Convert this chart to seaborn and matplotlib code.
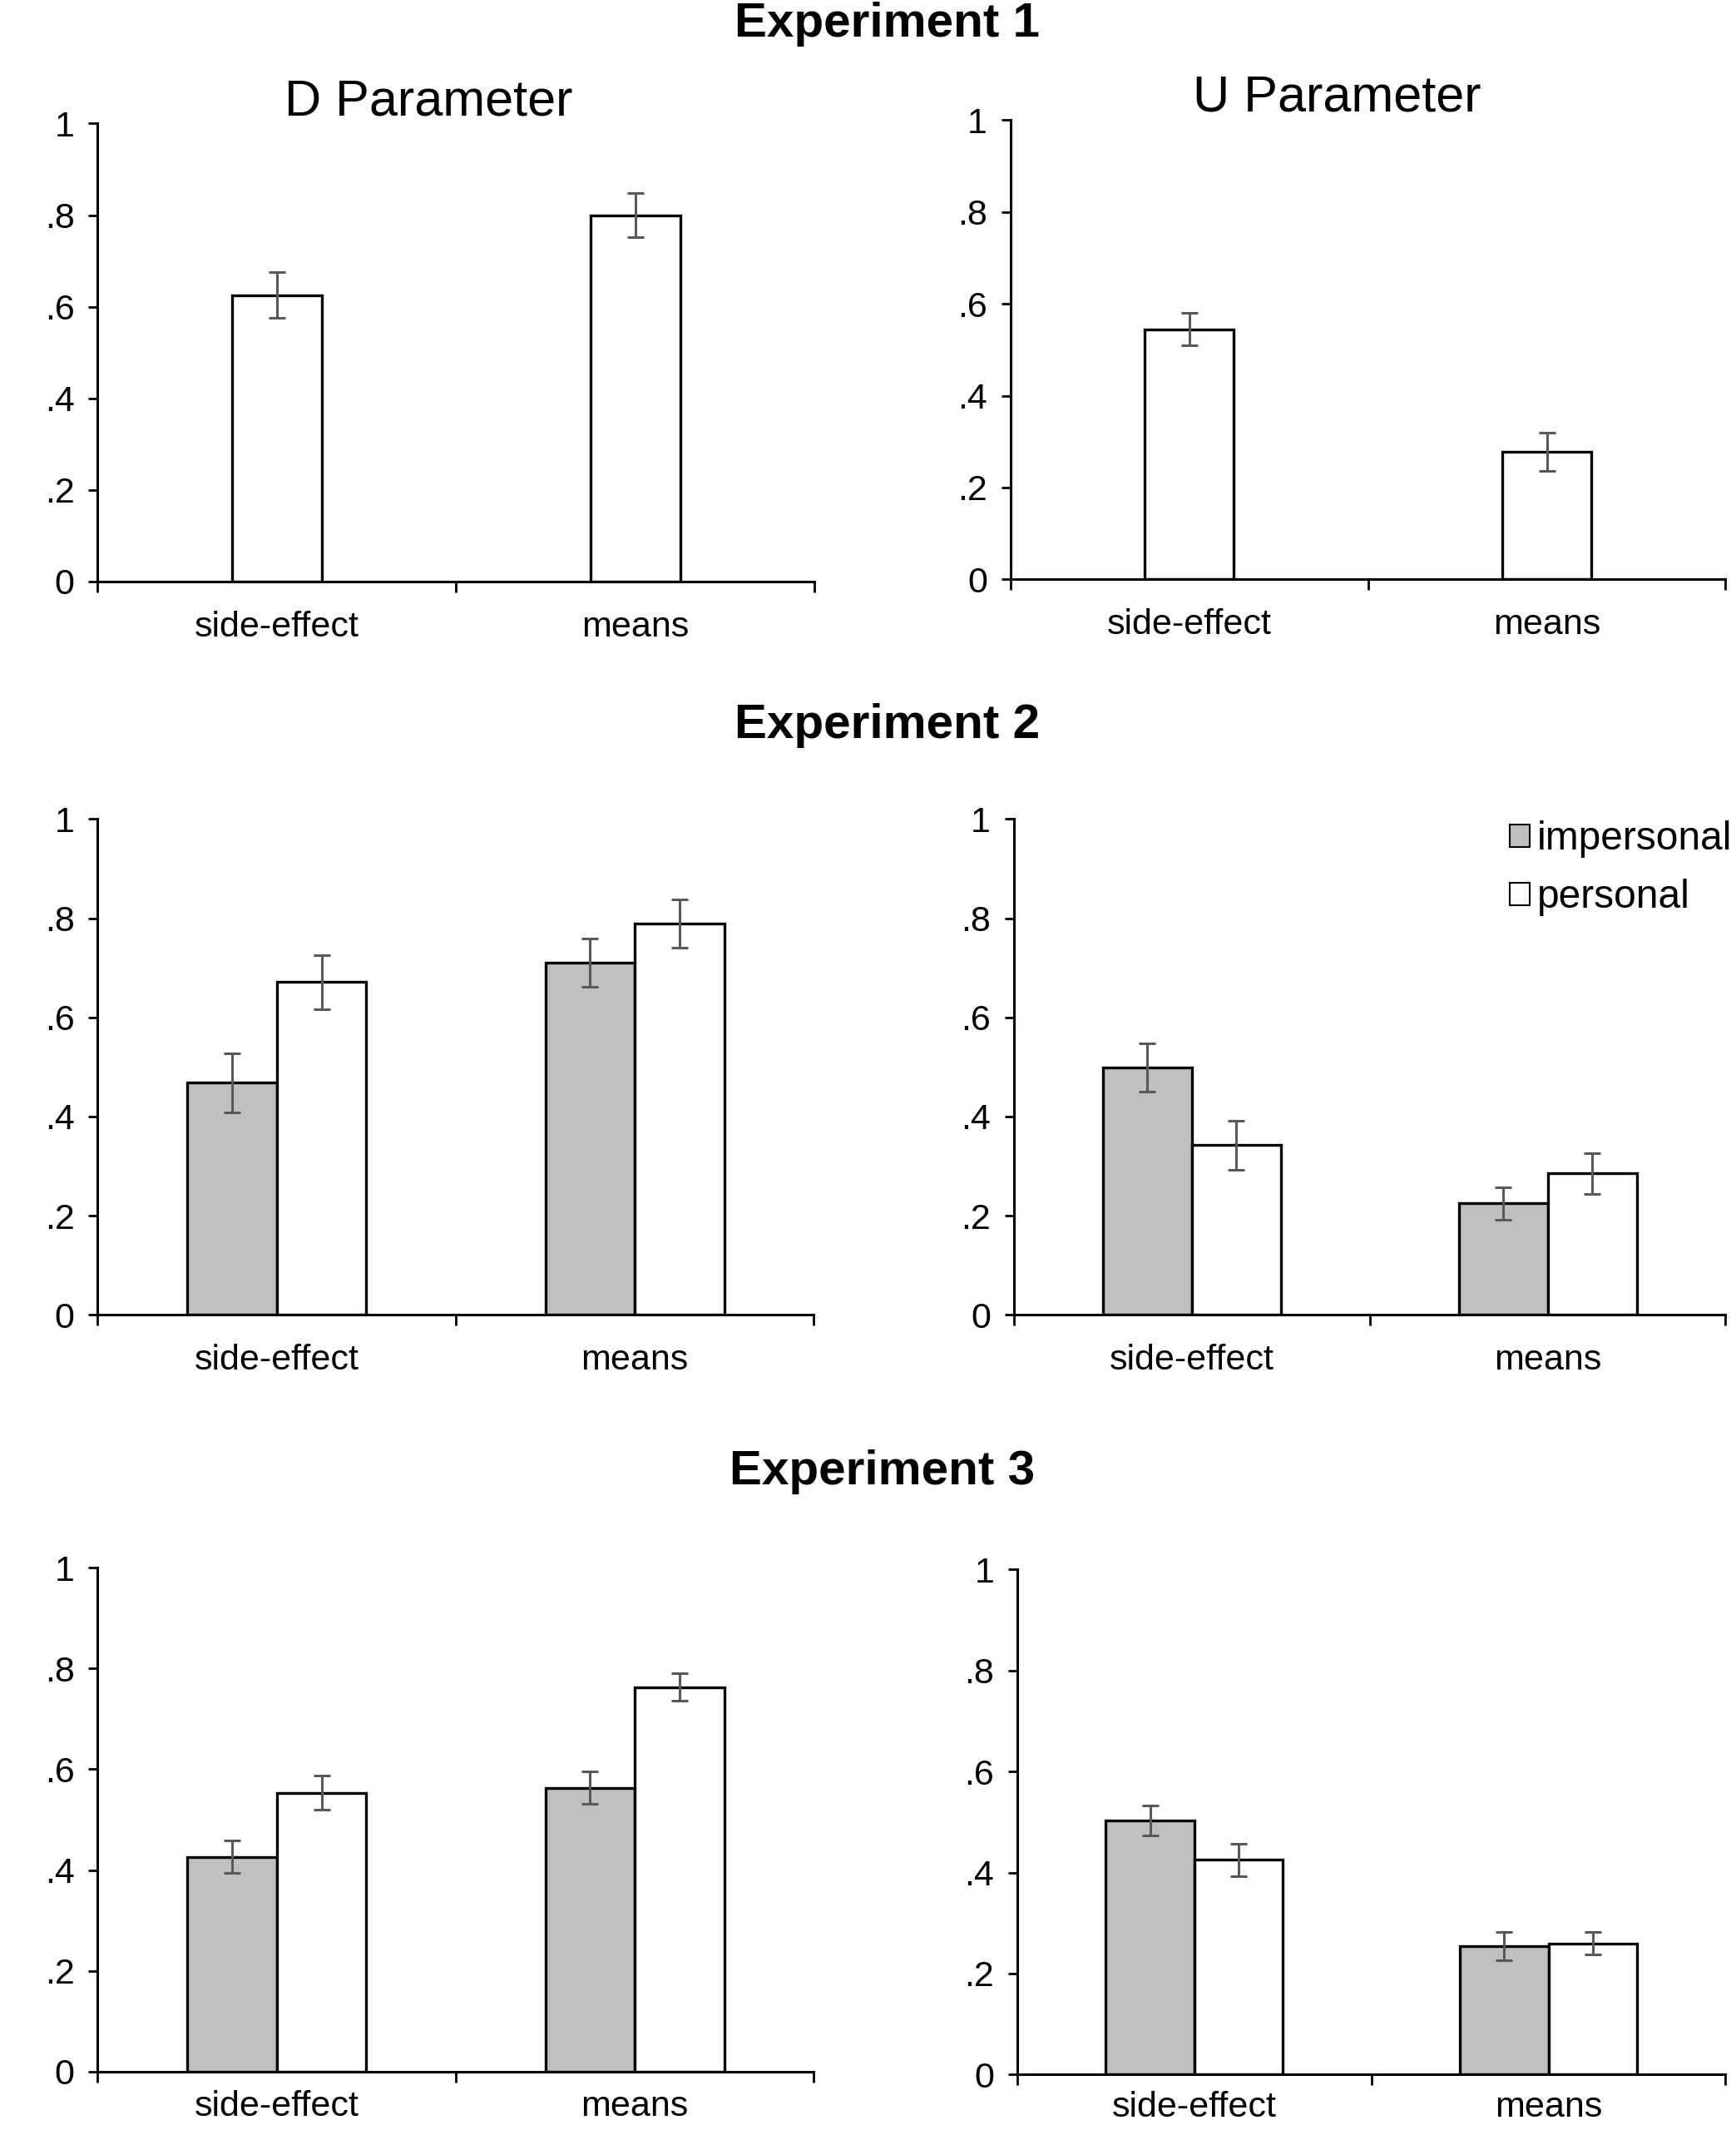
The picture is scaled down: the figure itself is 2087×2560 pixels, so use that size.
import numpy as np
import pandas as pd
import matplotlib
matplotlib.use("Agg")
import matplotlib.pyplot as plt
import seaborn as sns
from matplotlib.patches import Patch

# Dados
condicoes = ["side-effect", "means"]
grupos = ["impersonal", "personal"]

exp1_d = [0.625, 0.800]
exp1_d_err = [0.050, 0.048]
exp1_u = [0.545, 0.278]
exp1_u_err = [0.035, 0.042]

exp2_d_imp = [0.468, 0.710]
exp2_d_imp_err = [0.060, 0.049]
exp2_d_per = [0.671, 0.789]
exp2_d_per_err = [0.055, 0.048]
exp2_u_imp = [0.499, 0.225]
exp2_u_imp_err = [0.048, 0.033]
exp2_u_per = [0.342, 0.285]
exp2_u_per_err = [0.050, 0.041]

exp3_d_imp = [0.426, 0.563]
exp3_d_imp_err = [0.032, 0.032]
exp3_d_per = [0.553, 0.763]
exp3_d_per_err = [0.034, 0.027]
exp3_u_imp = [0.503, 0.255]
exp3_u_imp_err = [0.030, 0.028]
exp3_u_per = [0.425, 0.260]
exp3_u_per_err = [0.032, 0.022]

y_ticks = [0, 0.2, 0.4, 0.6, 0.8, 1.0]
y_labels = ["0", ".2", ".4", ".6", ".8", "1"]

sns.set_theme(style="ticks")
plt.rcParams["font.family"] = ["Liberation Sans", "DejaVu Sans"]
plt.rcParams["text.color"] = "black"
plt.rcParams["xtick.color"] = "black"
plt.rcParams["ytick.color"] = "black"
plt.rcParams["axes.labelcolor"] = "black"

cores = {"impersonal": "#C0C0C0", "personal": "white"}
cor_erro = "#595959"
fs_tick = 31


def formatar_eixo(ax, pad_x=25):
    ax.set_xlim(-0.5, 1.5)
    ax.set_ylim(0, 1)
    ax.set_yticks(y_ticks)
    ax.set_yticklabels(y_labels, fontsize=fs_tick)
    ax.set_xticks([-0.5, 0.5, 1.5])
    ax.set_xticklabels([])
    ax.set_xticks([0, 1], minor=True)
    ax.set_xticklabels(condicoes, minor=True, fontsize=fs_tick)
    ax.tick_params(axis="x", which="major", length=9, width=2, direction="out", color="black")
    ax.tick_params(axis="x", which="minor", length=0, pad=pad_x)
    ax.tick_params(axis="y", length=8, width=2, pad=12, color="black")
    ax.set_xlabel("")
    ax.set_ylabel("")
    sns.despine(ax=ax)
    for s in ["left", "bottom"]:
        ax.spines[s].set_linewidth(2.2)
        ax.spines[s].set_color("black")
    ax.set_facecolor("white")


def barras_simples(ax, valores, erros):
    sns.barplot(x=condicoes, y=valores, color="white", saturation=1,
                edgecolor="black", linewidth=2.4, width=0.25,
                errorbar=None, ax=ax)
    for barra, e in zip(ax.containers[0], erros):
        cx = barra.get_x() + barra.get_width() / 2
        ax.errorbar(cx, barra.get_height(), yerr=e, color=cor_erro,
                    elinewidth=2.2, capsize=7, capthick=2.2, zorder=5)
    formatar_eixo(ax)


def barras_grupo(ax, imp, imp_err, per, per_err, pad_x=25):
    df = pd.DataFrame({
        "condicao": condicoes * 2,
        "grupo": [grupos[0]] * 2 + [grupos[1]] * 2,
        "valor": imp + per,
    })
    sns.barplot(data=df, x="condicao", y="valor", hue="grupo",
                hue_order=grupos, order=condicoes, palette=cores,
                saturation=1, edgecolor="black", linewidth=2.4,
                width=0.5, errorbar=None, legend=False, ax=ax)
    for cont, erros in zip(ax.containers, [imp_err, per_err]):
        for barra, e in zip(cont, erros):
            cx = barra.get_x() + barra.get_width() / 2
            ax.errorbar(cx, barra.get_height(), yerr=e, color=cor_erro,
                        elinewidth=2.2, capsize=7, capthick=2.2, zorder=5)
    formatar_eixo(ax, pad_x)


fig = plt.figure(figsize=(20.87, 25.6), dpi=100)
fig.patch.set_facecolor("white")

ax1 = fig.add_axes([0.0563, 0.727, 0.413, 0.215])
ax2 = fig.add_axes([0.582, 0.728, 0.412, 0.2156])
ax3 = fig.add_axes([0.0563, 0.3827, 0.4125, 0.2328])
ax4 = fig.add_axes([0.584, 0.3827, 0.410, 0.2328])
ax5 = fig.add_axes([0.0563, 0.0274, 0.4125, 0.2366])
ax6 = fig.add_axes([0.586, 0.026, 0.408, 0.2372])

barras_simples(ax1, exp1_d, exp1_d_err)
barras_simples(ax2, exp1_u, exp1_u_err)
barras_grupo(ax3, exp2_d_imp, exp2_d_imp_err, exp2_d_per, exp2_d_per_err)
barras_grupo(ax4, exp2_u_imp, exp2_u_imp_err, exp2_u_per, exp2_u_per_err)
barras_grupo(ax5, exp3_d_imp, exp3_d_imp_err, exp3_d_per, exp3_d_per_err, pad_x=16)
barras_grupo(ax6, exp3_u_imp, exp3_u_imp_err, exp3_u_per, exp3_u_per_err, pad_x=14)

# Títulos
fig.text(0.511, 0.9885, "Experiment 1", ha="center", va="center", fontsize=42, fontweight="bold")
fig.text(0.511, 0.6594, "Experiment 2", ha="center", va="center", fontsize=42, fontweight="bold")
fig.text(0.508, 0.309, "Experiment 3", ha="center", va="center", fontsize=42, fontweight="bold")
fig.text(0.247, 0.952, "D Parameter", ha="center", va="center", fontsize=44)
fig.text(0.770, 0.954, "U Parameter", ha="center", va="center", fontsize=44)

# Legenda
handles = [Patch(facecolor=cores[g], edgecolor="black", linewidth=1.5, label=g) for g in grupos]
fig.legend(handles=handles, loc="upper left", bbox_to_anchor=(0.8695, 0.6147),
           frameon=False, fontsize=34.5, handlelength=0.5, handleheight=0.5,
           handletextpad=0.2, labelspacing=0.52, borderpad=0, borderaxespad=0)

fig.savefig("out.png", dpi=100, facecolor="white")
